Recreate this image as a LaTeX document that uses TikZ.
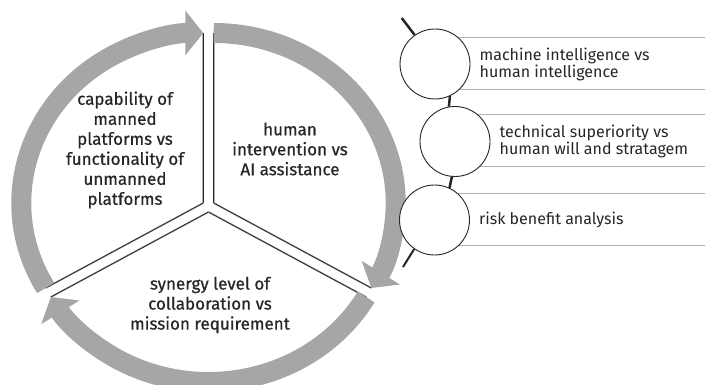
\documentclass[tikz,border=0pt]{standalone}
\usepackage{fontspec}
\setmainfont{Fira Sans}
\newfontfamily\sectorfont{Fira Sans}[FakeBold=0.6]
\usetikzlibrary{positioning,arrows.meta,backgrounds}
\tikzset{
    ring/.style={%
        draw=gray!70, line width=20pt,
        -{Triangle[width=44pt,length=18pt]}
        },
    cut/.style={%
        draw=gray!60, double=black!85,
        line width=0.5pt, double distance=0.8pt
        },
    sector/.style={%
        align=center, text=black!85,
        font=\sectorfont\fontsize{17}{20}\selectfont
        },
    bead/.style={%
        circle, draw=black!85, fill=white,
        line width=0.9pt, minimum size=70pt, inner sep=0pt
        },
    spine/.style={draw=black!85, line width=2.5pt},
    rule/.style={draw=gray!60, line width=0.8pt},
    item/.style={%
        align=left, inner sep=0pt, text=black!85,
        font=\fontsize{16}{17}\selectfont
        }
}

\begin{document}
\begin{tikzpicture}[x=1pt,y=1pt]
\useasboundingbox (0,0) rectangle (705,-385);

% corners of the three sectors
\coordinate (VL) at (203.3,-203);
\coordinate (VR) at (213.7,-203);
\coordinate (VB) at (208.5,-212);

\draw[cut] (VL) -- ++(90:182 and 170);
\draw[cut] (VL) -- ++(210:182 and 170);
\draw[cut] (VR) -- ++(90:182 and 170);
\draw[cut] (VR) -- ++(-30:182 and 170);
\draw[cut] (VB) -- ++(-30:182 and 170);
\draw[cut] (VB) -- ++(210:182 and 170);

% the cycle
\draw[ring] (VL) ++(210:182 and 170) arc[start angle=210, end angle=90, x radius=182pt, y radius=170pt];
\draw[ring] (VR) ++(90:182 and 170) arc[start angle=90, end angle=-30, x radius=182pt, y radius=170pt];
\draw[ring] (VB) ++(-30:182 and 170) arc[start angle=-30, end angle=-150, x radius=182pt, y radius=170pt];

\node[sector] (manned) at (125,-150) {capability of\\manned\\platforms vs\\functionality of\\unmanned\\platforms};
\node[sector] (human) at (290,-149) {human\\intervention vs\\AI assistance};
\node[sector] (synergy) at (210,-305) {synergy level of\\collaboration vs\\mission requirement};

% list on the right
\coordinate (edgeR) at (705,0);
\coordinate (spineTop) at (401.7,-18);
\coordinate (spineEnd) at (403,-267);

\node[bead] (b1) at (435,-64) {};
\node[bead] (b2) at (455,-141.5) {};
\node[bead] (b3) at (434.5,-220) {};

\begin{scope}[on background layer]
\foreach \b in {b1,b2,b3}{
    \draw[rule] ([yshift=27pt]\b.center) -- ([yshift=27pt]\b.center -| edgeR);
    \draw[rule] ([yshift=-25pt]\b.center) -- ([yshift=-25pt]\b.center -| edgeR);
}
\end{scope}

\draw[spine] (spineTop) -- (b1.125);
\draw[spine] (b1.-65) -- (b2.100);
\draw[spine] (b2.-95) -- (b3.65);
\draw[spine, line width=2pt] (b3.-125) -- (spineEnd);

\node[item, right=9pt of b1] (t1) {machine intelligence vs\\human intelligence};
\node[item, right=9pt of b2] (t2) {technical superiority vs\\human will and stratagem};
\node[item, right=9pt of b3] (t3) {risk benefit analysis};

\end{tikzpicture}
\end{document}
